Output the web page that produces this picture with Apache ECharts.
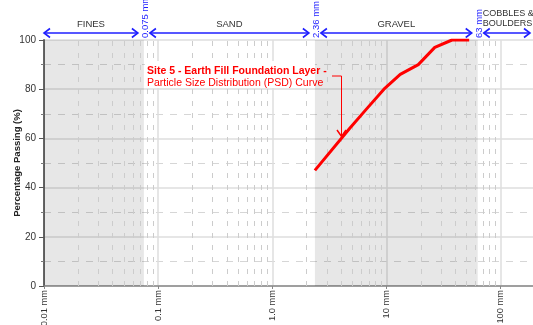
<!DOCTYPE html>
<html><head><meta charset="utf-8">
<script src="https://cdn.jsdelivr.net/npm/echarts@6/dist/echarts.min.js"></script>
<style>html,body{margin:0;padding:0;background:#fff}#c{width:533px;height:325px}</style>
</head><body><div id="c"></div>
<script>
// ---- data ----
const sieveSizes = [2.36, 4.75, 6.7, 9.5, 13.2, 19, 26.5, 37.5, 53];
const percentPassing = [47, 64, 72, 80, 86, 90, 97, 100, 100];
const xTickValues = [0.01, 0.1, 1, 10, 100];
const xTickLabels = ['0.01 mm', '0.1 mm', '1.0 mm', '10 mm', '100 mm'];
const yTickValues = [0, 20, 40, 60, 80, 100];
const zoneNames = ['FINES', 'SAND', 'GRAVEL', 'COBBLES &\nBOULDERS'];
const zoneBounds = [0.01, 0.075, 2.36, 63, 200];
const boundaryLabels = ['0.075 mm', '2.36 mm', '63 mm'];
const shadedZones = [[0.01, 0.075], [2.36, 63]];
const minorMultipliers = [2, 3, 4, 5, 6, 7, 8, 9];
const annotationTitle = 'Site 5 - Earth Fill Foundation Layer -';
const annotationSub = 'Particle Size Distribution (PSD) Curve';
const yAxisTitle = 'Percentage Passing (%)';

const FONT = 'Liberation Sans, Arial, sans-serif';
const BLUE = '#1f1fff';
const RED = '#ff0000';

const minorX = [];
xTickValues.forEach(d => minorMultipliers.forEach(m => {
  const v = d * m;
  if (v < zoneBounds[zoneBounds.length - 1]) minorX.push(+v.toPrecision(6));
}));

const chart = echarts.init(document.getElementById('c'), null, {renderer: 'canvas'});
const option = {
  animation: false,
  backgroundColor: '#fff',
  grid: {left: 44, top: 40, width: 491, height: 246, containLabel: false, outerBoundsMode: 'none'},
  xAxis: {
    type: 'log', logBase: 10, min: zoneBounds[0], max: zoneBounds[zoneBounds.length - 1],
    axisLine: {show: true, onZero: false, lineStyle: {color: '#888', width: 1.5}},
    axisTick: {show: true, length: 3, lineStyle: {color: '#888'}},
    axisLabel: {
      rotate: 90, margin: 4, fontSize: 9.3, color: '#333', fontFamily: FONT,
      showMaxLabel: false,
      formatter: v => {
        const i = xTickValues.findIndex(t => Math.abs(Math.log10(t) - Math.log10(v)) < 1e-6);
        return i >= 0 ? xTickLabels[i] : '';
      }
    },
    splitLine: {show: true, lineStyle: {color: '#dedede', width: 1.5}}
  },
  yAxis: {
    type: 'value', min: 0, max: 100, interval: 20,
    name: yAxisTitle, nameLocation: 'middle', nameGap: 22, nameMoveOverlap: false,
    nameTextStyle: {fontSize: 9.5, fontWeight: 'bold', color: '#222', fontFamily: FONT},
    axisLine: {show: true, lineStyle: {color: '#666', width: 2}},
    axisTick: {show: true, inside: false, length: 5, lineStyle: {color: '#555', width: 1}},
    minorTick: {show: true, splitNumber: 2, length: 3, lineStyle: {color: '#777'}},
    axisLabel: {fontSize: 10, color: '#333', margin: 8, fontFamily: FONT,
      formatter: v => yTickValues.indexOf(v) >= 0 ? String(v) : ''},
    splitLine: {show: true, lineStyle: {color: '#dedede', width: 1.5}},
    minorSplitLine: {show: true, lineStyle: {color: '#d6d6d6', width: 1, type: [7, 7]}}
  },
  series: [
    {
      type: 'line', data: [], silent: true, z: 1,
      markArea: {
        silent: true,
        itemStyle: {color: 'rgba(0,0,0,0.095)'},
        data: shadedZones.map(z => [{xAxis: z[0]}, {xAxis: z[1]}])
      }
    },
    {
      type: 'line', data: [], silent: true, z: 2,
      markLine: {
        silent: true, symbol: 'none', label: {show: false},
        lineStyle: {color: '#cccccc', width: 1, type: [5, 7]},
        data: minorX.map(v => ({xAxis: v}))
      }
    },
    {
      type: 'line', z: 10,
      data: sieveSizes.map((s, i) => [s, percentPassing[i]]),
      showSymbol: false, symbol: 'none',
      lineStyle: {color: RED, width: 3},
      itemStyle: {color: RED}
    }
  ]
};
chart.setOption(option);

// ---- top band & annotation graphics ----
const px = v => chart.convertToPixel({xAxisIndex: 0}, v);
const lineY = 33;
const gap = 6;
const els = [];
function chevron(x, dir) {
  return {type: 'polyline', z: 60, silent: true,
    shape: {points: [[x - dir * 6, lineY - 4.5], [x, lineY], [x - dir * 6, lineY + 4.5]]},
    style: {stroke: BLUE, lineWidth: 1.6, fill: null}};
}
for (let i = 0; i < zoneNames.length; i++) {
  const a = i === 0 ? px(zoneBounds[0]) : px(zoneBounds[i]) + gap;
  const b = i === zoneNames.length - 1 ? 530 : px(zoneBounds[i + 1]) - gap;
  els.push({type: 'line', z: 60, silent: true, shape: {x1: a, y1: lineY, x2: b, y2: lineY},
    style: {stroke: BLUE, lineWidth: 1.5}});
  els.push(chevron(a, -1));
  els.push(chevron(b, 1));
  const last = i === zoneNames.length - 1;
  els.push({type: 'text', z: 60, silent: true,
    x: last ? a - 1 : (a + b) / 2, y: last ? 19 : 24,
    style: {text: zoneNames[i], fontSize: last ? 9 : 9.5, fontFamily: FONT, fill: '#333',
      align: last ? 'left' : 'center', verticalAlign: 'middle', lineHeight: 10}});
}
boundaryLabels.forEach((t, i) => {
  els.push({type: 'text', z: 61, silent: true, x: px(zoneBounds[i + 1]) + 1.5, y: 38,
    rotation: Math.PI / 2,
    style: {text: t, fontSize: 9.5, fontFamily: FONT, fill: BLUE, align: 'left', verticalAlign: 'middle'}});
});
els.push({type: 'rect', z: 50, silent: true, shape: {x: 145, y: 61, width: px(zoneBounds[2]) - 145, height: 27},
  style: {fill: '#fff'}});
els.push({type: 'text', z: 62, silent: true, x: 147, y: 71,
  style: {text: annotationTitle, fontSize: 10.5, fontWeight: 'bold', fontFamily: FONT, fill: RED,
    align: 'left', verticalAlign: 'middle'}});
els.push({type: 'text', z: 62, silent: true, x: 147, y: 83.5,
  style: {text: annotationSub, fontSize: 10.5, fontFamily: FONT, fill: RED,
    align: 'left', verticalAlign: 'middle'}});
els.push({type: 'polyline', z: 62, silent: true,
  shape: {points: [[332, 76], [341.5, 76], [341.5, 136]]},
  style: {stroke: RED, lineWidth: 1, fill: null}});
els.push({type: 'polyline', z: 62, silent: true,
  shape: {points: [[337, 130], [341.5, 136.5], [346, 130]]},
  style: {stroke: RED, lineWidth: 1.5, fill: null}});
chart.setOption({graphic: {elements: els}});
</script>
</body></html>
